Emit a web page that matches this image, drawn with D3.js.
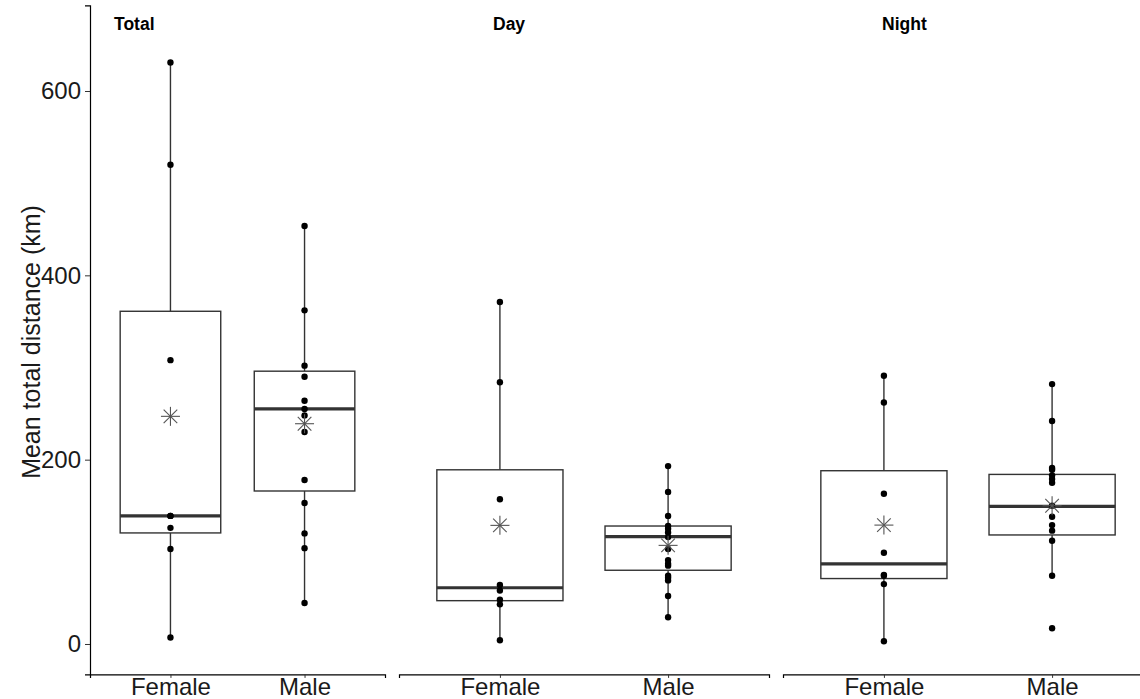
<!DOCTYPE html>
<html>
<head>
<meta charset="utf-8">
<script src="https://cdn.jsdelivr.net/npm/d3@7"></script>
<style>
  html, body { margin: 0; padding: 0; background: #fff; }
  svg { display: block; font-family: "Liberation Sans", Arial, sans-serif; }
</style>
</head>
<body>
<svg id="chart" width="1140" height="699"></svg>
<script>
// ---------------- data ----------------
const panels = ["Total", "Day", "Night"];
const categories = ["Female", "Male"];
const yTicks = [0, 200, 400, 600];
const yLimits = [0, 660];

// individual points per panel / sex
const totalFemale = [631, 520, 308, 139, 139, 126, 103, 7];
const totalMale   = [453.5, 362, 302, 290, 264, 255, 248, 230, 178, 153, 120, 104, 44.5];
const dayFemale   = [371, 284, 157, 64, 58, 48, 43, 4];
const dayMale     = [193, 165, 139, 128, 125, 121, 116, 103, 91, 87, 85, 74, 72, 69, 52, 29];
const nightFemale = [291, 262, 163, 99, 75, 74, 65, 3];
const nightMale   = [282, 242, 191, 189, 183, 179, 175, 150, 138, 129, 123, 112, 74, 17];

// box statistics: [Female, Male] per panel
const boxQ1       = [[120.5, 166], [47, 80], [71, 118.3]];
const boxMedian   = [[139, 255], [61, 116.4], [87, 149.4]];
const boxQ3       = [[361, 296], [189, 128], [188, 184]];
const whiskerLow  = [[7, 44.5], [4, 29], [3, 74]];
const whiskerHigh = [[631, 453.5], [371, 193.5], [291, 282]];
const groupMean   = [[247, 239], [128.7, 107], [129, 150]];

const pointsByPanel = [
  [totalFemale, totalMale],
  [dayFemale, dayMale],
  [nightFemale, nightMale]
];

// ---------------- layout ----------------
const svg = d3.select("#chart");
const plotTop = 5.3, plotBottom = 674.4;
const span = yLimits[1] - yLimits[0];
const y = d3.scaleLinear()
  .domain([yLimits[0] - 0.05 * span, yLimits[1] + 0.05 * span])
  .range([plotBottom, plotTop]);

const panelX = [[90, 385], [399, 769], [783, 1153]];
const titleX = [114, 493, 882];

const boxColor = "#333333";
const textColor = "#1a1a1a";

panels.forEach((p, pi) => {
  const x = d3.scalePoint().domain(categories).range(panelX[pi]).padding(0.6);
  const bw = x.step() * 0.75;
  const g = svg.append("g");

  categories.forEach((c, ci) => {
    const cx = x(c);
    // whiskers
    g.append("line")
      .attr("x1", cx).attr("x2", cx)
      .attr("y1", y(boxQ3[pi][ci])).attr("y2", y(whiskerHigh[pi][ci]))
      .attr("stroke", boxColor).attr("stroke-width", 1.4);
    g.append("line")
      .attr("x1", cx).attr("x2", cx)
      .attr("y1", y(boxQ1[pi][ci])).attr("y2", y(whiskerLow[pi][ci]))
      .attr("stroke", boxColor).attr("stroke-width", 1.4);
    // box
    g.append("rect")
      .attr("x", cx - bw / 2).attr("width", bw)
      .attr("y", y(boxQ3[pi][ci]))
      .attr("height", y(boxQ1[pi][ci]) - y(boxQ3[pi][ci]))
      .attr("fill", "white").attr("stroke", boxColor).attr("stroke-width", 1.4);
    // median
    g.append("line")
      .attr("x1", cx - bw / 2).attr("x2", cx + bw / 2)
      .attr("y1", y(boxMedian[pi][ci])).attr("y2", y(boxMedian[pi][ci]))
      .attr("stroke", boxColor).attr("stroke-width", 3.2);
    // points
    g.selectAll(null).data(pointsByPanel[pi][ci]).enter().append("circle")
      .attr("cx", cx).attr("cy", d => y(d)).attr("r", 3.2)
      .attr("fill", "#000");
    // mean asterisk
    const my = y(groupMean[pi][ci]);
    const h = 9.5, dg = 6.8;
    const star = g.append("g").attr("stroke", "#555").attr("stroke-width", 1.1);
    star.append("line").attr("x1", cx - h).attr("x2", cx + h).attr("y1", my).attr("y2", my);
    star.append("line").attr("x1", cx).attr("x2", cx).attr("y1", my - h).attr("y2", my + h);
    star.append("line").attr("x1", cx - dg).attr("x2", cx + dg).attr("y1", my - dg).attr("y2", my + dg);
    star.append("line").attr("x1", cx - dg).attr("x2", cx + dg).attr("y1", my + dg).attr("y2", my - dg);
  });

  // x axis
  const xa = g.append("g").attr("transform", `translate(0,${plotBottom})`)
    .call(d3.axisBottom(x).tickSizeOuter(0).tickSize(3.5).tickPadding(4));
  xa.select(".domain").attr("stroke", "#000").attr("stroke-width", 1.2);
  xa.selectAll(".tick line").attr("stroke", "#333");
  xa.selectAll(".tick text")
    .attr("font-size", 24).attr("fill", textColor)
    .attr("font-family", "'Liberation Sans', Arial, sans-serif")
    .attr("dy", null).attr("y", 21);

  // y axis only on first panel
  if (pi === 0) {
    const ya = g.append("g").attr("transform", `translate(${panelX[0][0]},0)`)
      .call(d3.axisLeft(y).tickValues(yTicks).tickSizeOuter(0).tickSize(5).tickPadding(4));
    ya.select(".domain").attr("stroke", "#000").attr("stroke-width", 1.2);
    ya.selectAll(".tick line").attr("stroke", "#333");
    ya.selectAll(".tick text")
      .attr("font-size", 24).attr("fill", textColor)
      .attr("font-family", "'Liberation Sans', Arial, sans-serif");
  }

  // panel label
  svg.append("text")
    .attr("x", titleX[pi]).attr("y", 30)
    .attr("font-size", 17.5).attr("font-weight", "bold").attr("fill", "#000")
    .text(p);
});

// y axis title
svg.append("text")
  .attr("transform", `translate(40,342) rotate(-90)`)
  .attr("text-anchor", "middle")
  .attr("font-size", 25).attr("fill", textColor)
  .text("Mean total distance (km)");
</script>
</body>
</html>
